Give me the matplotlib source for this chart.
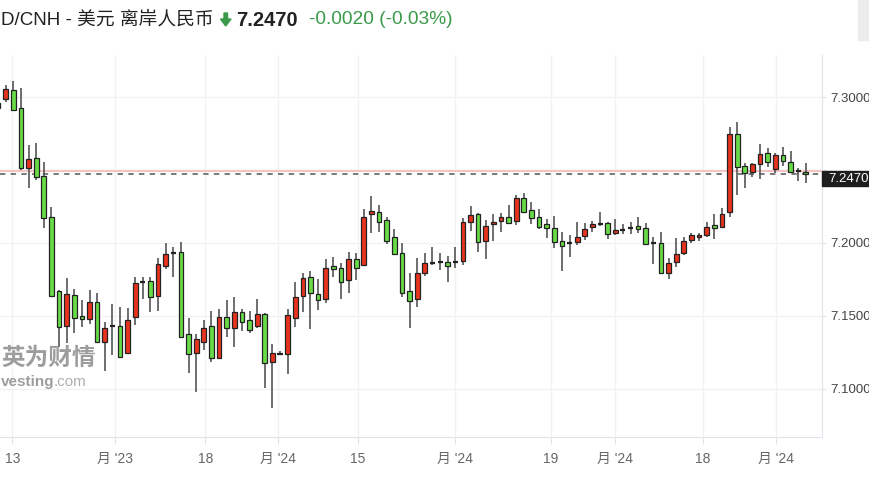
import matplotlib
matplotlib.use('Agg')
import matplotlib.pyplot as plt
from matplotlib.patches import Rectangle, Polygon
import numpy as np

# daily candles, oldest first (first one is cut by the left edge)
opens = [7.2959, 7.2986, 7.3048, 7.2925, 7.2514, 7.2582, 7.2459, 7.2178, 7.1671, 7.1431,
         7.1644, 7.1500, 7.1479, 7.1596, 7.1322, 7.1431, 7.1431, 7.1246, 7.1493, 7.1733,
         7.1740, 7.1637, 7.1842, 7.1931, 7.1938, 7.1377, 7.1246, 7.1322, 7.1431, 7.1212,
         7.1493, 7.1418, 7.1527, 7.1472, 7.1431, 7.1513, 7.1185, 7.1240, 7.1240, 7.1486,
         7.1637, 7.1767, 7.1650, 7.1616, 7.1842, 7.1829, 7.1746, 7.1890, 7.1849, 7.2199,
         7.2212, 7.2157, 7.2041, 7.1931, 7.1671, 7.1616, 7.1794, 7.1863, 7.1870, 7.1870,
         7.1866, 7.1877, 7.2144, 7.2199, 7.2014, 7.2130, 7.2151, 7.2178, 7.2151, 7.2308,
         7.2226, 7.2178, 7.2130, 7.2103, 7.2014, 7.2000, 7.2007, 7.2048, 7.2109, 7.2130,
         7.2137, 7.2068, 7.2089, 7.2103, 7.2116, 7.2103, 7.2000, 7.2000, 7.1794, 7.1870,
         7.1931, 7.2020, 7.2041, 7.2055, 7.2123, 7.2109, 7.2212, 7.2746, 7.2527, 7.2486,
         7.2541, 7.2616, 7.2507, 7.2603, 7.2555, 7.2493, 7.2486]
highs = [7.2979, 7.3082, 7.3110, 7.3062, 7.2671, 7.2685, 7.2555, 7.2246, 7.1678, 7.1760,
         7.1685, 7.1609, 7.1678, 7.1657, 7.1459, 7.1582, 7.1561, 7.1555, 7.1767, 7.1767,
         7.1767, 7.1897, 7.2000, 7.1972, 7.2007, 7.1486, 7.1377, 7.1472, 7.1534, 7.1548,
         7.1609, 7.1630, 7.1548, 7.1534, 7.1616, 7.1520, 7.1308, 7.1260, 7.1548, 7.1733,
         7.1794, 7.1808, 7.1753, 7.1890, 7.1904, 7.1863, 7.1938, 7.1931, 7.2233, 7.2322,
         7.2260, 7.2178, 7.2096, 7.2000, 7.1794, 7.1897, 7.1931, 7.1972, 7.1931, 7.1911,
         7.1972, 7.2171, 7.2253, 7.2205, 7.2157, 7.2199, 7.2205, 7.2260, 7.2329, 7.2342,
         7.2281, 7.2233, 7.2164, 7.2185, 7.2075, 7.2055, 7.2144, 7.2137, 7.2151, 7.2212,
         7.2144, 7.2164, 7.2130, 7.2144, 7.2178, 7.2137, 7.2041, 7.2075, 7.1897, 7.2034,
         7.2041, 7.2068, 7.2068, 7.2144, 7.2199, 7.2240, 7.2794, 7.2829, 7.2548, 7.2548,
         7.2678, 7.2651, 7.2616, 7.2657, 7.2630, 7.2514, 7.2548]
lows = [7.2863, 7.2966, 7.2904, 7.2500, 7.2377, 7.2431, 7.2103, 7.1630, 7.1287, 7.1315,
        7.1383, 7.1424, 7.1445, 7.1315, 7.1123, 7.1233, 7.1212, 7.1240, 7.1438, 7.1616,
        7.1527, 7.1534, 7.1822, 7.1767, 7.1350, 7.1109, 7.0979, 7.1267, 7.1185, 7.1205,
        7.1356, 7.1287, 7.1397, 7.1383, 7.1418, 7.1007, 7.0870, 7.1233, 7.1103, 7.1424,
        7.1527, 7.1411, 7.1541, 7.1589, 7.1767, 7.1616, 7.1657, 7.1746, 7.1845, 7.2068,
        7.2075, 7.1993, 7.1918, 7.1630, 7.1418, 7.1561, 7.1774, 7.1849, 7.1815, 7.1733,
        7.1829, 7.1849, 7.2082, 7.1938, 7.1890, 7.2014, 7.2075, 7.2130, 7.2123, 7.2205,
        7.2130, 7.2096, 7.2034, 7.1966, 7.1808, 7.1904, 7.1986, 7.2020, 7.2075, 7.2116,
        7.2027, 7.2055, 7.2062, 7.2062, 7.2068, 7.1988, 7.1856, 7.1790, 7.1753, 7.1835,
        7.1918, 7.2000, 7.2014, 7.2041, 7.2027, 7.2105, 7.2178, 7.2329, 7.2377, 7.2452,
        7.2438, 7.2520, 7.2479, 7.2527, 7.2482, 7.2425, 7.2410]
closes = [7.2925, 7.3055, 7.2911, 7.2514, 7.2575, 7.2452, 7.2171, 7.1637, 7.1424, 7.1650,
          7.1486, 7.1479, 7.1596, 7.1322, 7.1418, 7.1431, 7.1219, 7.1472, 7.1726, 7.1733,
          7.1630, 7.1856, 7.1924, 7.1931, 7.1356, 7.1240, 7.1342, 7.1418, 7.1212, 7.1493,
          7.1418, 7.1527, 7.1459, 7.1404, 7.1513, 7.1178, 7.1246, 7.1240, 7.1507, 7.1630,
          7.1760, 7.1657, 7.1609, 7.1829, 7.1822, 7.1733, 7.1890, 7.1829, 7.2178, 7.2219,
          7.2144, 7.2014, 7.1924, 7.1657, 7.1603, 7.1794, 7.1863, 7.1863, 7.1870, 7.1842,
          7.1873, 7.2144, 7.2192, 7.2007, 7.2116, 7.2144, 7.2178, 7.2137, 7.2308, 7.2212,
          7.2171, 7.2109, 7.2103, 7.2007, 7.1979, 7.2000, 7.2041, 7.2096, 7.2130, 7.2130,
          7.2062, 7.2089, 7.2089, 7.2103, 7.2096, 7.1993, 7.2000, 7.1794, 7.1863, 7.1924,
          7.2014, 7.2055, 7.2055, 7.2109, 7.2103, 7.2199, 7.2746, 7.2520, 7.2479, 7.2541,
          7.2610, 7.2555, 7.2603, 7.2562, 7.2486, 7.2493, 7.2470]

tick_labels = ['13', "月 '23", '18', "月 '24", '15', "月 '24", '19', "月 '24", '18', "月 '24"]
tick_pos = [1.86, 15.4, 27.2, 36.7, 47.2, 59.9, 72.5, 81.0, 92.5, 102.1]
y_levels = [7.10, 7.15, 7.20, 7.25, 7.30]
y_labels = ['7.1000', '7.1500', '7.2000', '', '7.3000']

title = 'D/CNH - 美元 离岸人民币'
last_price = 7.2470
prev_close = 7.2490
change = '-0.0020 (-0.03%)'

RED = '#e8341f'
GREEN = '#67dc47'
TXTGREEN = '#3a9a4a'

plt.rcParams['font.family'] = ['Liberation Sans', 'Noto Sans CJK SC']

W, H = 870, 492
def fx(p):
    return p / W
def fy(p):
    return 1 - p / H

fig = plt.figure(figsize=(W / 100, H / 100), dpi=100)
ax = fig.add_axes([0, fy(437), fx(822), (437 - 55) / H])

o = np.array(opens)
h = np.array(highs)
l = np.array(lows)
c = np.array(closes)
x = np.arange(len(o))
up = c > o + 0.001
down = c < o - 0.001
flat = ~(up | down)

ax.vlines(x, l, h, color='#555555', lw=1.2, zorder=3)
ax.bar(x[up], (c - o)[up], bottom=o[up], width=0.62, color=RED,
       edgecolor='#222222', linewidth=0.9, zorder=4)
ax.bar(x[down], (o - c)[down], bottom=c[down], width=0.62, color=GREEN,
       edgecolor='#222222', linewidth=0.9, zorder=4)
ax.hlines(((o + c) / 2)[flat], x[flat] - 0.33, x[flat] + 0.33, color='#222222', lw=1.6, zorder=4)

ax.axhline(prev_close, color='#f6c3c3', lw=1.5, zorder=1)
ax.axhline(last_price, color='#555555', lw=1.1, ls=(0, (3.5, 3.5)), zorder=2)

ax.set_xlim(0.252, 108.13)
ax.set_ylim(7.06712, 7.32877)

ax.set_xticks(tick_pos, tick_labels)
ax.set_yticks(y_levels, y_labels)
ax.yaxis.tick_right()
ax.tick_params(axis='x', length=5, color='#dfe4ea', pad=6, labelsize=10, labelcolor='#666666')
ax.tick_params(axis='y', length=3, color='#dfe4ea', pad=3, labelsize=9.5, labelcolor='#444444')
ax.grid(True, color='#f2f2f2', lw=1)
ax.set_axisbelow(True)
for s in ['top', 'left']:
    ax.spines[s].set_visible(False)
for s in ['right', 'bottom']:
    ax.spines[s].set_color('#dfe4ea')

# current price tag on the right axis
fig.patches.append(Rectangle((fx(822), fy(186)), fx(48), 15 / H, transform=fig.transFigure,
                             color='#1e1e1e', zorder=5))
fig.text(fx(828), fy(178.5), '%.4f' % last_price, color='white', fontsize=9.5, va='center', zorder=6)

# header
fig.text(fx(1), fy(20), title, fontsize=13.5, color='#222222', va='center')
fig.patches.append(Polygon([(fx(224), fy(13)), (fx(227.5), fy(13)), (fx(227.5), fy(19)),
                            (fx(231), fy(19)), (fx(225.7), fy(26)), (fx(220.5), fy(19)),
                            (fx(224), fy(19))], closed=True, transform=fig.transFigure,
                           color=TXTGREEN))
fig.text(fx(236), fy(20), '%.4f' % last_price, fontsize=14.5, fontweight='bold',
         color='#222222', va='center')
fig.text(fx(309), fy(20), change, fontsize=13.8, color=TXTGREEN, va='center')
fig.patches.append(Rectangle((fx(858), fy(40)), fx(12), 40 / H, transform=fig.transFigure,
                             color='#ececec'))

# watermark
fig.text(fx(1), fy(358), '英为财情', fontsize=17, fontweight='bold', color='#8c8c8c',
         alpha=0.85, va='center', zorder=0)
fig.text(fx(1), fy(382), 'vesting', fontsize=11, fontweight='bold', color='#8c8c8c',
         alpha=0.85, va='center')
fig.text(fx(54), fy(382), '.com', fontsize=11, color='#b0b0b0', va='center')

plt.savefig('out.png', dpi=100)
plt.close()
